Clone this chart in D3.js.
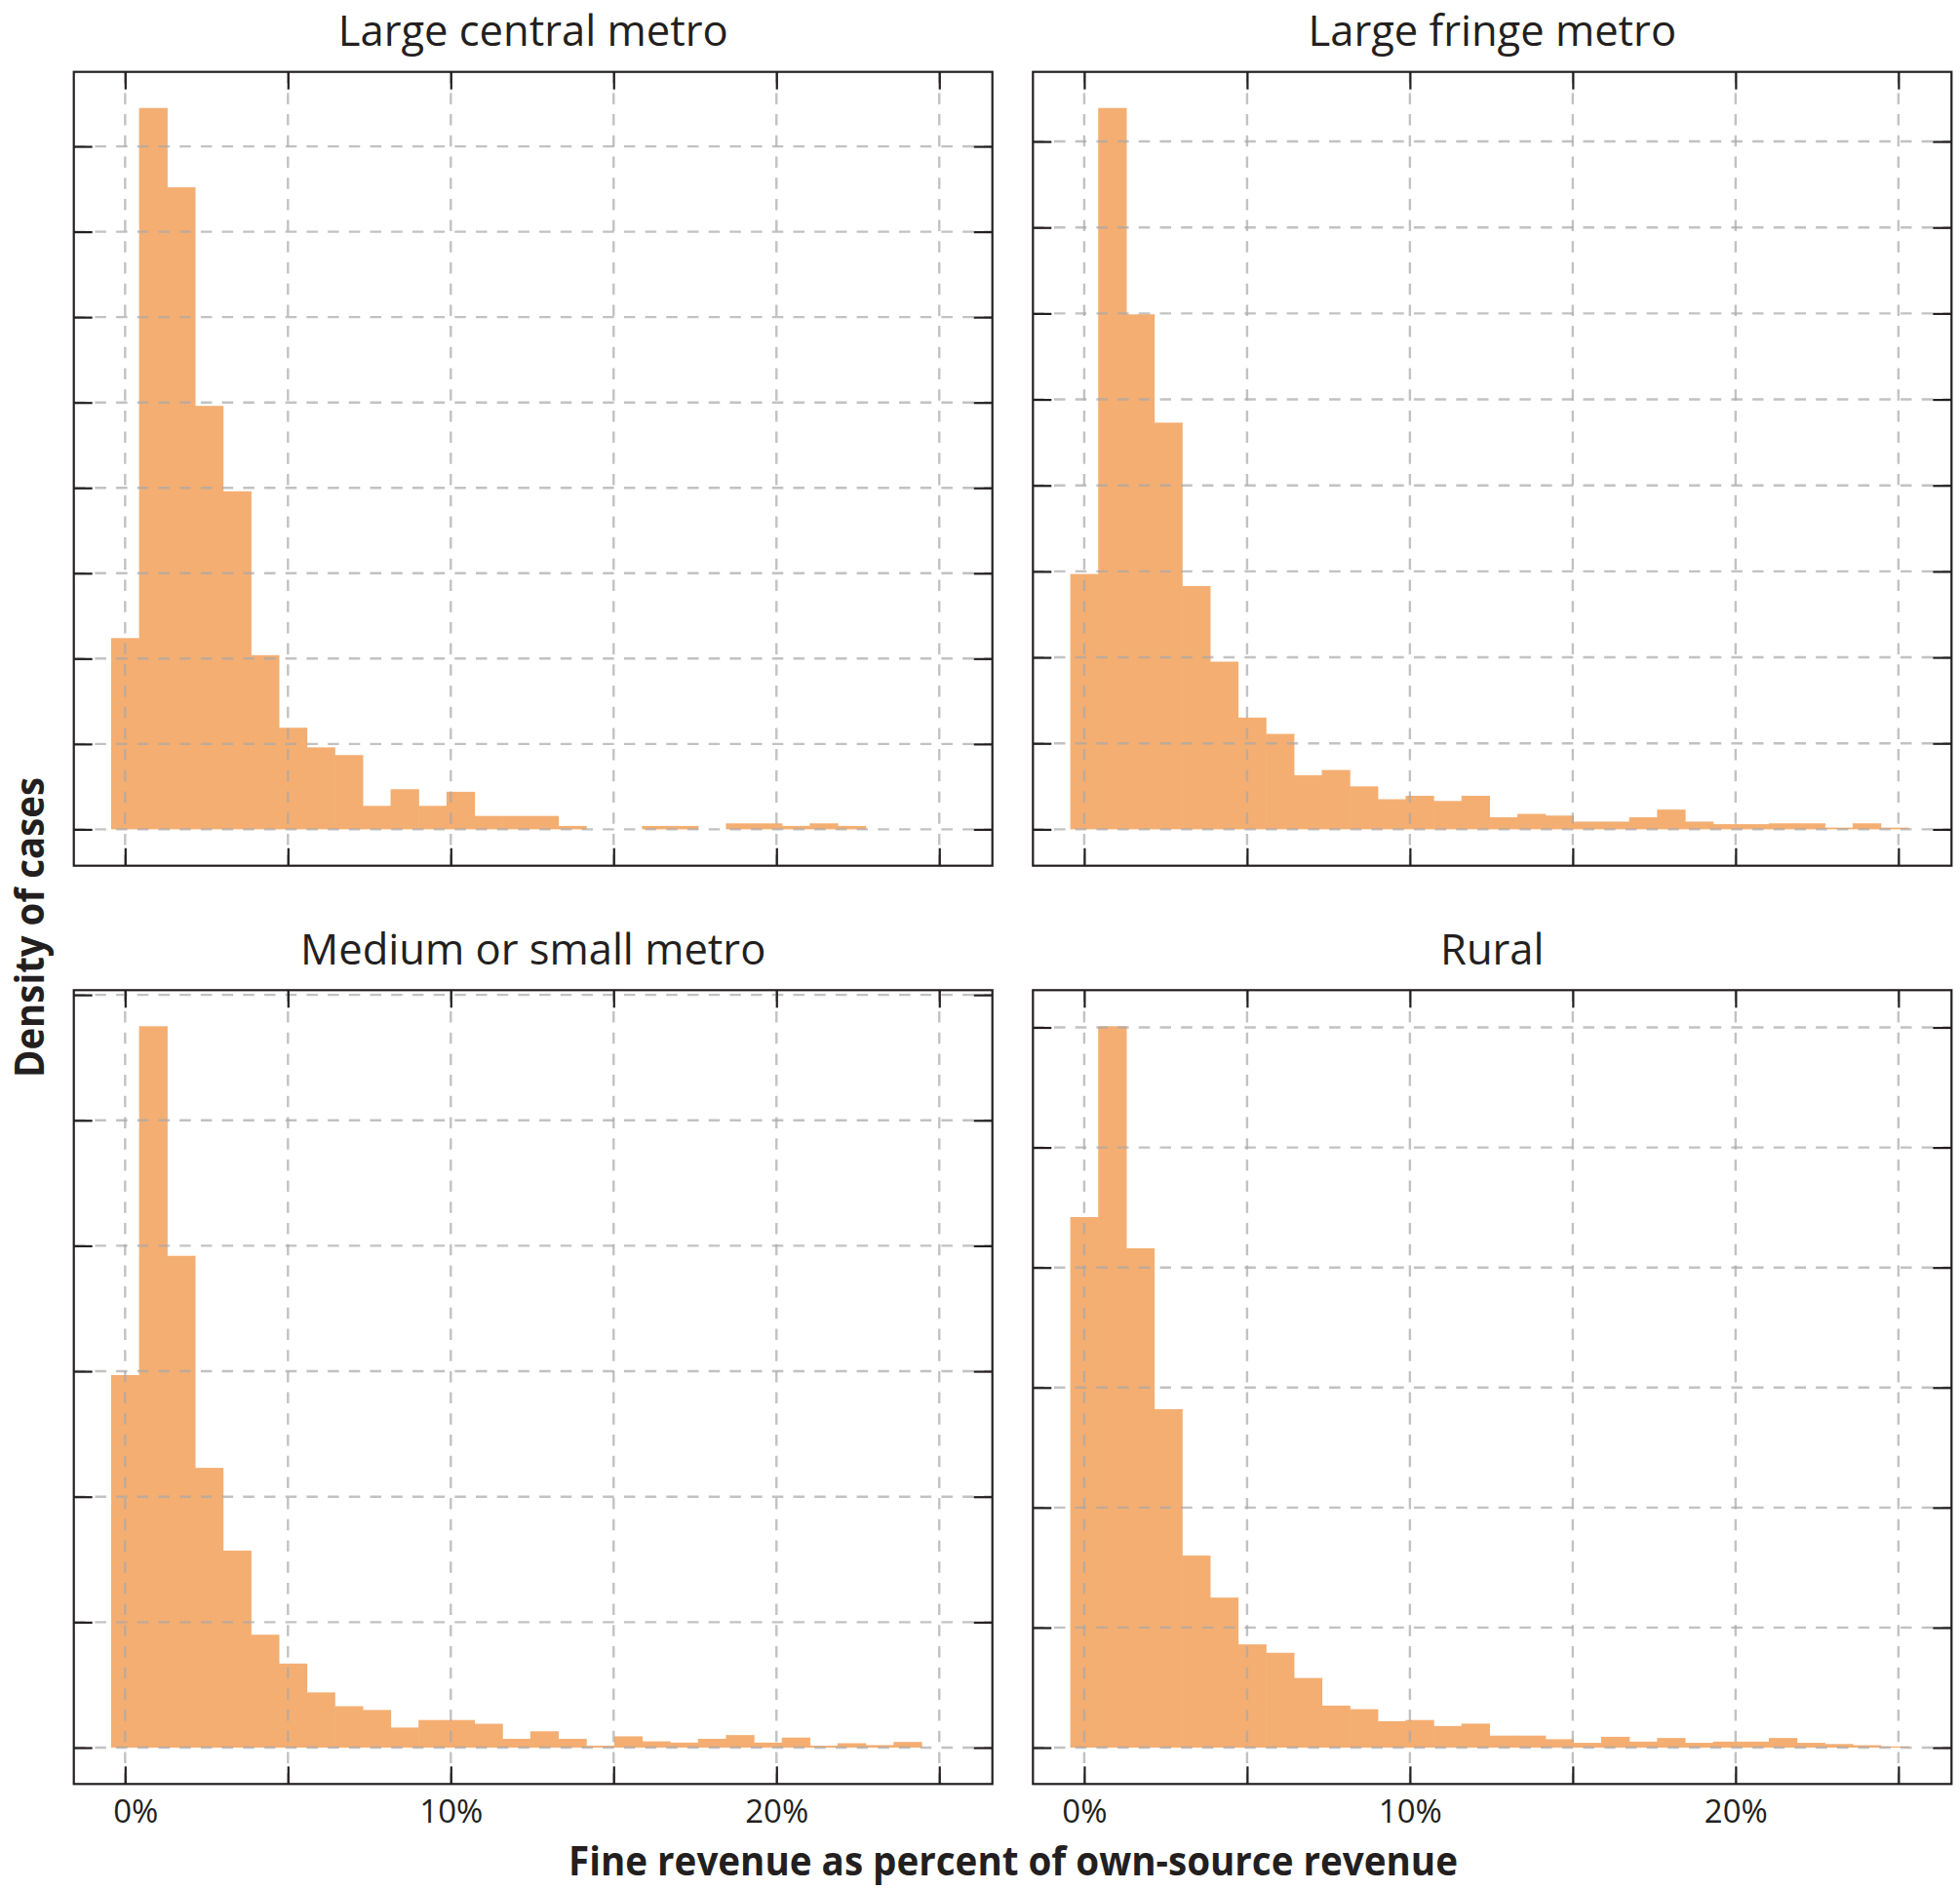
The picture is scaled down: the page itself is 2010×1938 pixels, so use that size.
<!DOCTYPE html>
<html>
<head>
<meta charset="utf-8">
<script src="https://cdn.jsdelivr.net/npm/d3@7"></script>
<style>
  body { margin: 0; background: #fff; }
  svg { display: block; }
</style>
</head>
<body>
<svg id="chart" width="2010" height="1938"></svg>
<script>
// ---------------- DATA ----------------
const panelTitles = ["Large central metro", "Large fringe metro", "Medium or small metro", "Rural"];
// histogram bin width (percentage points); bin k is centred at k * binWidth
const binWidth = 0.858;
// density of cases per bin (arbitrary units, one unit per grid line)
const largeCentral = [2.24, 8.45, 7.52, 4.96, 3.96, 2.04, 1.19, 0.96, 0.87, 0.275, 0.47, 0.275, 0.44, 0.157, 0.157, 0.157, 0.04, 0, 0, 0.04, 0.04, 0, 0.07, 0.07, 0.04, 0.07, 0.04];
const largeFringe = [2.97, 8.39, 5.99, 4.73, 2.83, 1.95, 1.30, 1.11, 0.63, 0.69, 0.50, 0.35, 0.39, 0.33, 0.39, 0.14, 0.18, 0.16, 0.09, 0.09, 0.14, 0.23, 0.09, 0.06, 0.06, 0.07, 0.07, 0.02, 0.07, 0.02];
const mediumSmall = [2.97, 5.75, 3.92, 2.23, 1.57, 0.90, 0.67, 0.44, 0.33, 0.30, 0.16, 0.22, 0.22, 0.19, 0.07, 0.13, 0.07, 0.015, 0.09, 0.05, 0.04, 0.07, 0.10, 0.04, 0.08, 0.015, 0.035, 0.02, 0.045];
const rural = [4.42, 6.01, 4.16, 2.82, 1.60, 1.25, 0.86, 0.79, 0.58, 0.35, 0.32, 0.22, 0.23, 0.18, 0.20, 0.10, 0.10, 0.07, 0.04, 0.09, 0.05, 0.08, 0.04, 0.05, 0.05, 0.08, 0.04, 0.03, 0.02, 0.01];
const xTickValues = [0, 5, 10, 15, 20, 25];
const xTickLabels = ["0%", "", "10%", "", "20%", ""];
const xAxisTitle = "Fine revenue as percent of own-source revenue";
const yAxisTitle = "Density of cases";

const panelSeries = [largeCentral, largeFringe, mediumSmall, rural];

// ---------------- LAYOUT ----------------
const ink = "#231f20";
const barColor = "#f4ae72";
const font = "'Open Sans', 'Noto Sans', sans-serif";
const panelW = 942, panelH = 814;
const panelX = [75.7, 1059.3];
const panelY = [73.7, 1015.3];
const basePad = 37.3;           // distance of zero line above frame bottom
const xDomain = [-1.575, 26.63];
const tickLen = 18;

const svg = d3.select("#chart");

panelSeries.forEach((vals, p) => {
  const col = p % 2, row = Math.floor(p / 2);
  const g = svg.append("g").attr("transform", `translate(${panelX[col]},${panelY[row]})`);

  const x = d3.scaleLinear().domain(xDomain).range([0, panelW]);
  const yMax = d3.max(vals) * 1.05;
  const y = d3.scaleLinear().domain([0, yMax]).range([panelH - basePad, 0]);
  const yTicks = d3.range(0, Math.floor(yMax) + 1);

  // bars
  g.append("g").selectAll("rect").data(vals).join("rect")
    .attr("x", (d, i) => x((i - 0.5) * binWidth))
    .attr("width", (d, i) => x((i + 0.5) * binWidth) - x((i - 0.5) * binWidth) + 0.6)
    .attr("y", d => y(d))
    .attr("height", d => y(0) - y(d))
    .attr("fill", barColor);

  // grid (on top of bars, translucent)
  const grid = g.append("g").attr("stroke", "#a8a8a8").attr("stroke-opacity", 0.7)
    .attr("stroke-width", 2.4).attr("stroke-dasharray", "11.5,10.2").attr("fill", "none");
  grid.selectAll("line.h").data(yTicks).join("line").attr("class", "h")
    .attr("x1", 0).attr("x2", panelW).attr("y1", d => y(d)).attr("y2", d => y(d));
  grid.selectAll("line.v").data(xTickValues).join("line").attr("class", "v")
    .attr("y1", 0).attr("y2", panelH).attr("x1", d => x(d)).attr("x2", d => x(d));

  // axes: inward ticks on all four sides
  const fmt = (d) => row === 1 ? xTickLabels[xTickValues.indexOf(d)] : "";
  const axB = g.append("g").attr("transform", `translate(0,${panelH})`)
    .call(d3.axisBottom(x).tickValues(xTickValues).tickSizeInner(-tickLen).tickSizeOuter(0)
      .tickPadding(16.3).tickFormat(fmt));
  const axT = g.append("g")
    .call(d3.axisTop(x).tickValues(xTickValues).tickSizeInner(-tickLen).tickSizeOuter(0).tickFormat(""));
  const axL = g.append("g")
    .call(d3.axisLeft(y).tickValues(yTicks).tickSizeInner(-tickLen - 1).tickSizeOuter(0).tickFormat(""));
  const axR = g.append("g").attr("transform", `translate(${panelW},0)`)
    .call(d3.axisRight(y).tickValues(yTicks).tickSizeInner(-tickLen - 1).tickSizeOuter(0).tickFormat(""));
  [axB, axT, axL, axR].forEach(a => {
    a.select(".domain").remove();
    a.selectAll(".tick line").attr("stroke", ink).attr("stroke-width", 2.2);
    a.selectAll(".tick text").attr("fill", ink).style("font-family", font).style("font-size", "33px");
  });
  if (row === 1 && col === 0) {
    axB.selectAll(".tick text").filter(d => d === 0).attr("dx", 10.5);
  }

  // frame
  g.append("rect").attr("x", 0).attr("y", 0).attr("width", panelW).attr("height", panelH)
    .attr("fill", "none").attr("stroke", ink).attr("stroke-width", 2.2);

  // panel title
  g.append("text").attr("x", panelW / 2).attr("y", -26.5).attr("text-anchor", "middle")
    .style("font-family", font).style("font-size", "43.5px").attr("fill", ink)
    .text(panelTitles[p]);
});

// axis titles
svg.append("text").attr("x", 1039).attr("y", 1923).attr("text-anchor", "middle")
  .style("font-family", font).style("font-size", "41px").style("font-weight", "700").attr("fill", ink)
  .attr("textLength", 912).attr("lengthAdjust", "spacingAndGlyphs")
  .text(xAxisTitle);
svg.append("text").attr("transform", "translate(44.5,951) rotate(-90)").attr("text-anchor", "middle")
  .style("font-family", font).style("font-size", "41px").style("font-weight", "700").attr("fill", ink)
  .attr("textLength", 308).attr("lengthAdjust", "spacingAndGlyphs")
  .text(yAxisTitle);
</script>
</body>
</html>
